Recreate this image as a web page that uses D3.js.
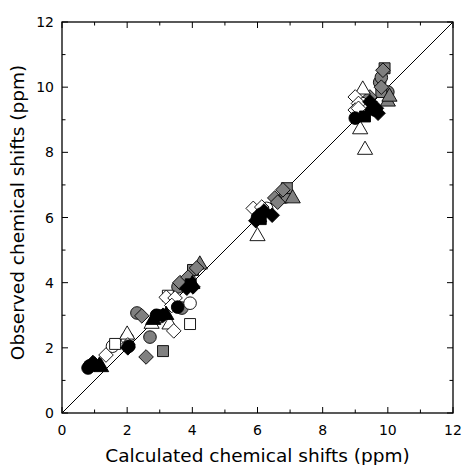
<!DOCTYPE html>
<html>
<head>
<meta charset="utf-8">
<script src="https://cdn.jsdelivr.net/npm/d3@7"></script>
<style>
  body { margin: 0; background: #fff; }
  text { font-family: "DejaVu Sans", Verdana, sans-serif; }
</style>
</head>
<body>
<svg width="462" height="465"></svg>
<script>
// [calculated, observed] pairs for each marker kind
var blackCircles = [[0.8,1.38],[0.85,1.45],[2.05,2.05],[2.9,3.0],[3.55,3.25],[6.0,6.0],[6.1,6.1],[9.6,9.3],[9.0,9.05]];
var blackDiamonds = [[0.95,1.55],[1.0,1.5],[2.02,2.0],[3.1,3.0],[3.83,3.83],[4.02,3.87],[5.95,5.9],[6.2,6.2],[6.45,6.07],[9.45,9.55],[9.7,9.2],[9.65,9.35]];
var blackTriangles = [[1.15,1.5],[1.2,1.45],[2.8,2.9],[3.2,3.05],[4.0,4.0],[6.05,6.05],[9.5,9.4]];
var blackSquares = [[3.0,3.0],[3.95,3.95],[6.1,5.95],[9.3,9.1]];

var grayCircles = [[2.7,2.33],[2.3,3.07],[3.68,3.22],[3.56,3.87],[6.84,6.63],[9.75,10.15],[10.0,9.85],[9.8,10.3]];
var grayDiamonds = [[2.58,1.72],[2.45,2.98],[3.62,4.0],[3.87,4.17],[4.13,4.45],[6.53,6.6],[6.62,6.47],[6.78,6.85],[9.8,10.0],[9.45,9.7],[9.85,10.52]];
var graySquares = [[3.1,1.9],[4.02,4.39],[6.9,6.9],[9.9,10.58],[9.8,9.85]];
var grayTriangles = [[4.23,4.6],[2.85,2.95],[7.08,6.63],[10.0,9.6],[10.05,9.75]];

var whiteCircles = [[1.55,2.05],[2.0,2.3],[3.93,3.37],[6.28,6.28],[9.2,9.5]];
var whiteDiamonds = [[1.35,1.78],[2.02,2.09],[3.43,2.52],[3.2,3.55],[3.47,3.53],[3.37,3.3],[5.87,6.28],[6.13,6.32],[9.0,9.7],[9.1,9.5],[9.2,9.2],[9.0,9.3],[9.1,9.35]];
var whiteSquares = [[1.63,2.12],[3.93,2.73],[3.25,3.6]];
var whiteTriangles = [[2.0,2.45],[2.75,2.78],[3.3,2.76],[6.0,5.47],[9.23,9.97],[9.15,8.75],[9.3,8.12]];

var xTicks = [0, 2, 4, 6, 8, 10, 12];
var yTicks = [0, 2, 4, 6, 8, 10, 12];
var minorTicks = [1, 3, 5, 7, 9, 11];

var svg = d3.select("svg"),
    margin = {left: 62, right: 9, top: 22, bottom: 52},
    width = +svg.attr("width") - margin.left - margin.right,
    height = +svg.attr("height") - margin.top - margin.bottom;

var x = d3.scaleLinear().domain([0, 12]).range([0, width]);
var y = d3.scaleLinear().domain([0, 12]).range([height, 0]);

var g = svg.append("g")
    .attr("transform", "translate(" + margin.left + "," + margin.top + ")");

// diagonal y = x
g.append("line")
    .attr("x1", x(0)).attr("y1", y(0))
    .attr("x2", x(12)).attr("y2", y(12))
    .attr("stroke", "#000")
    .attr("stroke-width", 1);

var series = [
  {data: grayCircles, shape: d3.symbolCircle, size: 125, fill: "#808080"},
  {data: graySquares, shape: d3.symbolSquare, size: 120, fill: "#808080"},
  {data: grayTriangles, shape: d3.symbolTriangle, size: 100, fill: "#808080"},
  {data: grayDiamonds, shape: "diamond", size: 7.3, fill: "#808080"},
  {data: whiteCircles, shape: d3.symbolCircle, size: 125, fill: "#fff"},
  {data: whiteSquares, shape: d3.symbolSquare, size: 120, fill: "#fff"},
  {data: whiteTriangles, shape: d3.symbolTriangle, size: 100, fill: "#fff"},
  {data: whiteDiamonds, shape: "diamond", size: 7.3, fill: "#fff"},
  {data: blackCircles, shape: d3.symbolCircle, size: 125, fill: "#000"},
  {data: blackSquares, shape: d3.symbolSquare, size: 120, fill: "#000"},
  {data: blackTriangles, shape: d3.symbolTriangle, size: 100, fill: "#000"},
  {data: blackDiamonds, shape: "diamond", size: 7.3, fill: "#000"}
];

function diamondPath(r) {
  return "M0," + (-r) + "L" + r + ",0L0," + r + "L" + (-r) + ",0Z";
}

series.forEach(function(s) {
  var path = s.shape === "diamond"
      ? function() { return diamondPath(s.size); }
      : d3.symbol().type(s.shape).size(s.size);
  g.append("g").selectAll("path")
    .data(s.data)
    .enter().append("path")
    .attr("transform", function(d) {
      var dy = s.shape === d3.symbolTriangle ? 1.5 : 0;
      return "translate(" + x(d[0]) + "," + (y(d[1]) + dy) + ")";
    })
    .attr("d", path)
    .attr("fill", s.fill)
    .attr("stroke", "#000")
    .attr("stroke-width", 0.9);
});

// frame and inward ticks on all four sides
g.append("rect")
    .attr("width", width).attr("height", height)
    .attr("fill", "none").attr("stroke", "#000").attr("stroke-width", 1.3);

var ticks = g.append("g").attr("stroke", "#000").attr("stroke-width", 1);
function addTicks(vals, len) {
  vals.forEach(function(v) {
    ticks.append("line").attr("x1", x(v)).attr("x2", x(v)).attr("y1", height).attr("y2", height - len);
    ticks.append("line").attr("x1", x(v)).attr("x2", x(v)).attr("y1", 0).attr("y2", len);
    ticks.append("line").attr("y1", y(v)).attr("y2", y(v)).attr("x1", 0).attr("x2", len);
    ticks.append("line").attr("y1", y(v)).attr("y2", y(v)).attr("x1", width).attr("x2", width - len);
  });
}
addTicks(xTicks, 6);
addTicks(minorTicks, 3.5);

g.append("g").selectAll("text")
    .data(xTicks)
    .enter().append("text")
    .attr("x", function(d) { return x(d); })
    .attr("y", height + 22)
    .attr("text-anchor", "middle")
    .attr("font-size", 14)
    .text(function(d) { return d; });

g.append("g").selectAll("text")
    .data(yTicks)
    .enter().append("text")
    .attr("x", -8)
    .attr("y", function(d) { return y(d) + 5; })
    .attr("text-anchor", "end")
    .attr("font-size", 14)
    .text(function(d) { return d; });

g.append("text")
    .attr("x", width / 2)
    .attr("y", height + 49)
    .attr("text-anchor", "middle")
    .attr("font-size", 18.5)
    .text("Calculated chemical shifts (ppm)");

g.append("text")
    .attr("transform", "translate(" + (-38) + "," + (height / 2 - 5) + ") rotate(-90)")
    .attr("text-anchor", "middle")
    .attr("font-size", 18.5)
    .text("Observed chemical shifts (ppm)");
</script>
</body>
</html>
